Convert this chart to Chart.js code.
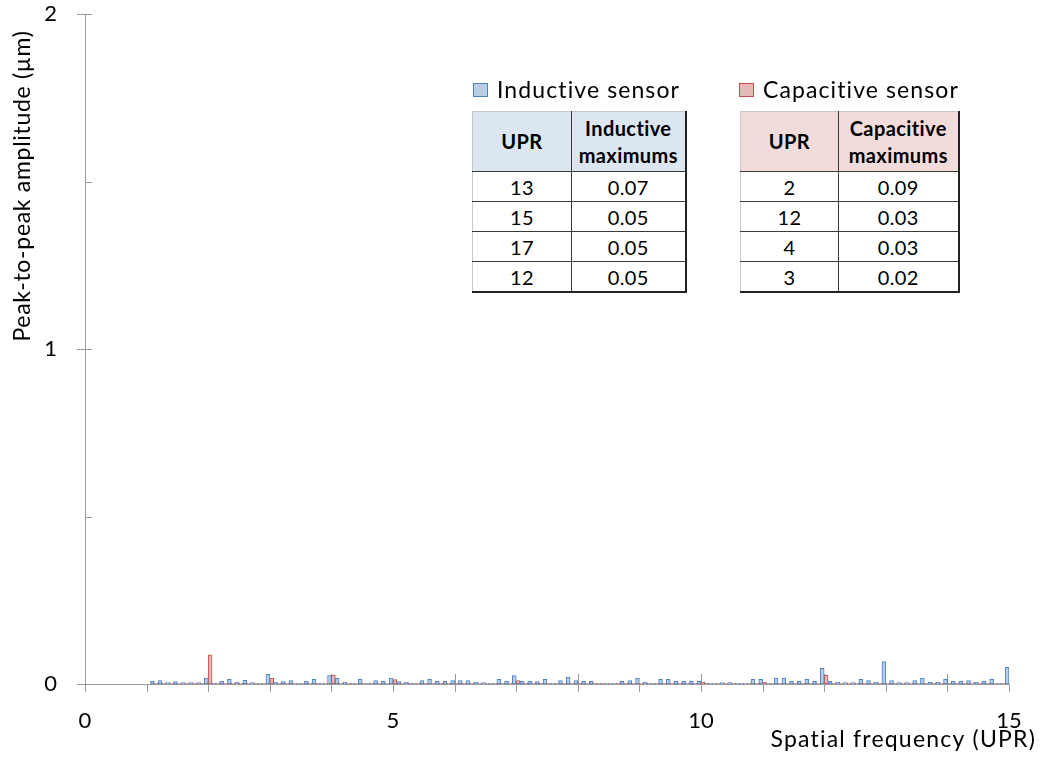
<!DOCTYPE html>
<html>
<head>
<meta charset="utf-8">
<script src="https://cdn.jsdelivr.net/npm/chart.js@4.4.0/dist/chart.umd.min.js"></script>
<style>
  html, body { margin: 0; padding: 0; background: #fff; }
  #wrap { position: relative; width: 1044px; height: 765px; font-family: Lato, sans-serif; color: #000; }
  #chart { position: absolute; left: 0; top: 0; }
  .legend { position: absolute; font-size: 23px; line-height: 28px; letter-spacing: 1.1px; white-space: nowrap; }
  .legend i { position: absolute; left: -24px; top: 8px; width: 13px; height: 12px; border: 1px solid; }
  table.maxima { position: absolute; border-collapse: collapse; table-layout: fixed; background: #fff; }
  .maxima td, .maxima th { text-align: center; padding: 0; border: 1px solid #3a3a3a; }
  .maxima th { font-weight: bold; font-size: 20px; line-height: 27px; height: 59px; letter-spacing: 0.4px; }
  .maxima td { font-size: 20px; height: 29px; letter-spacing: 0.4px; }
  .maxima tr:first-child th { border-top-color: #c8c8c8; }
  .maxima td:first-child, .maxima th:first-child { border-left-color: #c8c8c8; }
  .maxima td:last-child, .maxima th:last-child { border-right: 2px solid #222; }
  .maxima tr:last-child td { border-bottom: 2px solid #222; }
</style>
</head>
<body>
<div id="wrap">
  <canvas id="chart" width="1044" height="765"></canvas>
</div>
<script>
// spatial frequency (UPR), 1/8 UPR steps
const freq = [
  1.125, 1.25, 1.375, 1.5, 1.625, 1.75, 1.875, 2,
  2.125, 2.25, 2.375, 2.5, 2.625, 2.75, 2.875, 3,
  3.125, 3.25, 3.375, 3.5, 3.625, 3.75, 3.875, 4,
  4.125, 4.25, 4.375, 4.5, 4.625, 4.75, 4.875, 5,
  5.125, 5.25, 5.375, 5.5, 5.625, 5.75, 5.875, 6,
  6.125, 6.25, 6.375, 6.5, 6.625, 6.75, 6.875, 7,
  7.125, 7.25, 7.375, 7.5, 7.625, 7.75, 7.875, 8,
  8.125, 8.25, 8.375, 8.5, 8.625, 8.75, 8.875, 9,
  9.125, 9.25, 9.375, 9.5, 9.625, 9.75, 9.875, 10,
  10.125, 10.25, 10.375, 10.5, 10.625, 10.75, 10.875, 11,
  11.125, 11.25, 11.375, 11.5, 11.625, 11.75, 11.875, 12,
  12.125, 12.25, 12.375, 12.5, 12.625, 12.75, 12.875, 13,
  13.125, 13.25, 13.375, 13.5, 13.625, 13.75, 13.875, 14,
  14.125, 14.25, 14.375, 14.5, 14.625, 14.75, 14.875, 15
];

const inductive = [
  0.008, 0.010, 0.004, 0.007, 0.004, 0.004, 0.004, 0.018,
  0.002, 0.008, 0.014, 0.005, 0.011, 0.004, 0.002, 0.029,
  0.005, 0.007, 0.010, 0.002, 0.008, 0.014, 0.002, 0.025,
  0.017, 0.005, 0.002, 0.014, 0.002, 0.010, 0.008, 0.018,
  0.007, 0.005, 0.002, 0.010, 0.014, 0.008, 0.008, 0.010,
  0.010, 0.010, 0.005, 0.004, 0.002, 0.014, 0.008, 0.025,
  0.008, 0.008, 0.007, 0.014, 0.002, 0.010, 0.021, 0.010,
  0.008, 0.008, 0.002, 0.002, 0.002, 0.008, 0.010, 0.018,
  0.005, 0.002, 0.014, 0.014, 0.008, 0.008, 0.008, 0.008,
  0.003, 0.002, 0.004, 0.004, 0.002, 0.002, 0.014, 0.014,
  0.002, 0.018, 0.018, 0.008, 0.008, 0.014, 0.008, 0.047,
  0.008, 0.005, 0.004, 0.004, 0.014, 0.010, 0.005, 0.067,
  0.010, 0.004, 0.004, 0.010, 0.017, 0.005, 0.005, 0.014,
  0.008, 0.008, 0.010, 0.005, 0.008, 0.014, 0.002, 0.050
];

const capacitive = [
  0.002, 0.002, 0.002, 0.002, 0.002, 0.002, 0.002, 0.087,
  0.002, 0.002, 0.002, 0.002, 0.002, 0.002, 0.002, 0.018,
  0.002, 0.002, 0.002, 0.002, 0.002, 0.002, 0.002, 0.027,
  0.002, 0.002, 0.002, 0.002, 0.002, 0.002, 0.002, 0.013,
  0.002, 0.002, 0.002, 0.002, 0.002, 0.002, 0.002, 0.003,
  0.002, 0.002, 0.002, 0.002, 0.002, 0.002, 0.002, 0.010,
  0.002, 0.002, 0.002, 0.002, 0.002, 0.002, 0.002, 0.003,
  0.002, 0.002, 0.002, 0.002, 0.002, 0.002, 0.002, 0.002,
  0.002, 0.002, 0.002, 0.002, 0.002, 0.002, 0.002, 0.005,
  0.002, 0.002, 0.002, 0.002, 0.002, 0.002, 0.002, 0.005,
  0.002, 0.002, 0.002, 0.002, 0.002, 0.002, 0.002, 0.027,
  0.002, 0.002, 0.002, 0.002, 0.002, 0.002, 0.002, 0.002,
  0.002, 0.002, 0.002, 0.002, 0.002, 0.002, 0.002, 0.003,
  0.002, 0.002, 0.002, 0.002, 0.002, 0.002, 0.002, 0.002
];

// maxima tables
const inductiveUpr = [13, 15, 17, 12];
const inductiveMax = ["0.07", "0.05", "0.05", "0.05"];
const capacitiveUpr = [2, 12, 4, 3];
const capacitiveMax = ["0.09", "0.03", "0.03", "0.02"];

const xTitle = "Spatial frequency (UPR)";
const yTitle = "Peak-to-peak amplitude (µm)";

const blue = { fill: "#b9cde5", line: "#4f81bd", head: "#dce6f1" };
const red = { fill: "#e6b9b8", line: "#c0504d", head: "#f2dcdb" };

function addLegend(label, colors, left) {
  const d = document.createElement("div");
  d.className = "legend";
  d.style.left = left + "px";
  d.style.top = "75px";
  d.innerHTML = `<i style="background:${colors.fill};border-color:${colors.line}"></i>${label}`;
  document.getElementById("wrap").appendChild(d);
}

function addTable(header, upr, max, colors, left, widths) {
  const t = document.createElement("table");
  t.className = "maxima";
  t.style.left = left + "px";
  t.style.top = "111px";
  let html = `<colgroup><col style="width:${widths[0]}px"><col style="width:${widths[1]}px"></colgroup>`;
  html += `<tr style="background:${colors.head}"><th>UPR</th><th>${header}<br>maximums</th></tr>`;
  upr.forEach((u, i) => {
    html += `<tr><td>${u}</td><td>${max[i]}</td></tr>`;
  });
  t.innerHTML = html;
  document.getElementById("wrap").appendChild(t);
}

addLegend("Inductive sensor", blue, 497);
addLegend("Capacitive sensor", red, 763);
addTable("Inductive", inductiveUpr, inductiveMax, blue, 472, [99, 114]);
addTable("Capacitive", capacitiveUpr, capacitiveMax, red, 740, [98, 120]);

const axisColor = "#9a9a9a";

// tick marks: integers cross the axis on even values, y majors cross, minors inside
const axisMarks = {
  id: "axisMarks",
  beforeDatasetsDraw(chart) {
    const { ctx, scales: { x, y } } = chart;
    const x0 = x.getPixelForValue(0);
    const y0 = y.getPixelForValue(0);
    ctx.save();
    ctx.strokeStyle = axisColor;
    ctx.lineWidth = 1;
    ctx.beginPath();
    x.ticks.forEach((t) => {
      const px = Math.round(x.getPixelForValue(t.value)) + 0.5;
      const up = t.value % 2 === 0 ? 10 : 0;
      ctx.moveTo(px, y0 - up);
      ctx.lineTo(px, y0 + 8);
    });
    y.ticks.forEach((t) => {
      const py = Math.round(y.getPixelForValue(t.value)) + 0.5;
      const major = Number.isInteger(t.value);
      ctx.moveTo(major ? x0 - 8 : x0, py);
      ctx.lineTo(x0 + 7, py);
    });
    ctx.stroke();
    ctx.restore();
  },
};

const axisTitles = {
  id: "axisTitles",
  afterDraw(chart) {
    const ctx = chart.ctx;
    ctx.save();
    ctx.fillStyle = "#000";
    ctx.font = "23px Lato";
    ctx.textAlign = "right";
    ctx.textBaseline = "alphabetic";
    ctx.letterSpacing = "1.2px";
    ctx.fillText(xTitle, 1036, 747);
    ctx.letterSpacing = "0.7px";
    ctx.translate(30, 186);
    ctx.rotate(-Math.PI / 2);
    ctx.textAlign = "center";
    ctx.fillText(yTitle, 0, 0);
    ctx.restore();
  },
};

const ctx = document.getElementById("chart").getContext("2d");

new Chart(ctx, {
  type: "bar",
  data: {
    datasets: [
      {
        label: "Inductive sensor",
        data: freq.map((f, i) => ({ x: f, y: inductive[i] })),
        backgroundColor: blue.fill,
        borderColor: blue.line,
        borderWidth: 1,
        borderSkipped: false,
        categoryPercentage: 1,
        barPercentage: 1,
      },
      {
        label: "Capacitive sensor",
        data: freq.map((f, i) => ({ x: f, y: capacitive[i] })),
        backgroundColor: red.fill,
        borderColor: red.line,
        borderWidth: 1,
        borderSkipped: false,
        categoryPercentage: 1,
        barPercentage: 1,
      },
    ],
  },
  options: {
    responsive: false,
    animation: false,
    layout: { padding: { top: 14, right: 35, left: 0, bottom: 0 } },
    plugins: {
      legend: { display: false },
      tooltip: { enabled: false },
    },
    scales: {
      x: {
        type: "linear",
        min: 0,
        max: 15,
        offset: false,
        grid: { display: false, drawTicks: false },
        border: { color: axisColor },
        ticks: {
          stepSize: 1,
          autoSkip: false,
          maxRotation: 0,
          padding: 24,
          color: "#000",
          font: { family: "Lato", size: 22 },
          callback: (v) => (v % 5 === 0 ? v : ""),
        },
        afterFit: (s) => {
          s.height = 81;
          s.paddingLeft = 0;
          s.paddingRight = 0;
        },
      },
      y: {
        min: 0,
        max: 2,
        grid: { display: false, drawTicks: false },
        border: { color: axisColor },
        ticks: {
          stepSize: 0.5,
          padding: 28,
          color: "#000",
          font: { family: "Lato", size: 22 },
          callback: (v) => (Number.isInteger(v) ? v : ""),
        },
        afterFit: (s) => {
          s.width = 85;
          s.paddingTop = 0;
          s.paddingBottom = 0;
        },
      },
    },
  },
  plugins: [axisMarks, axisTitles],
});
</script>
</body>
</html>
